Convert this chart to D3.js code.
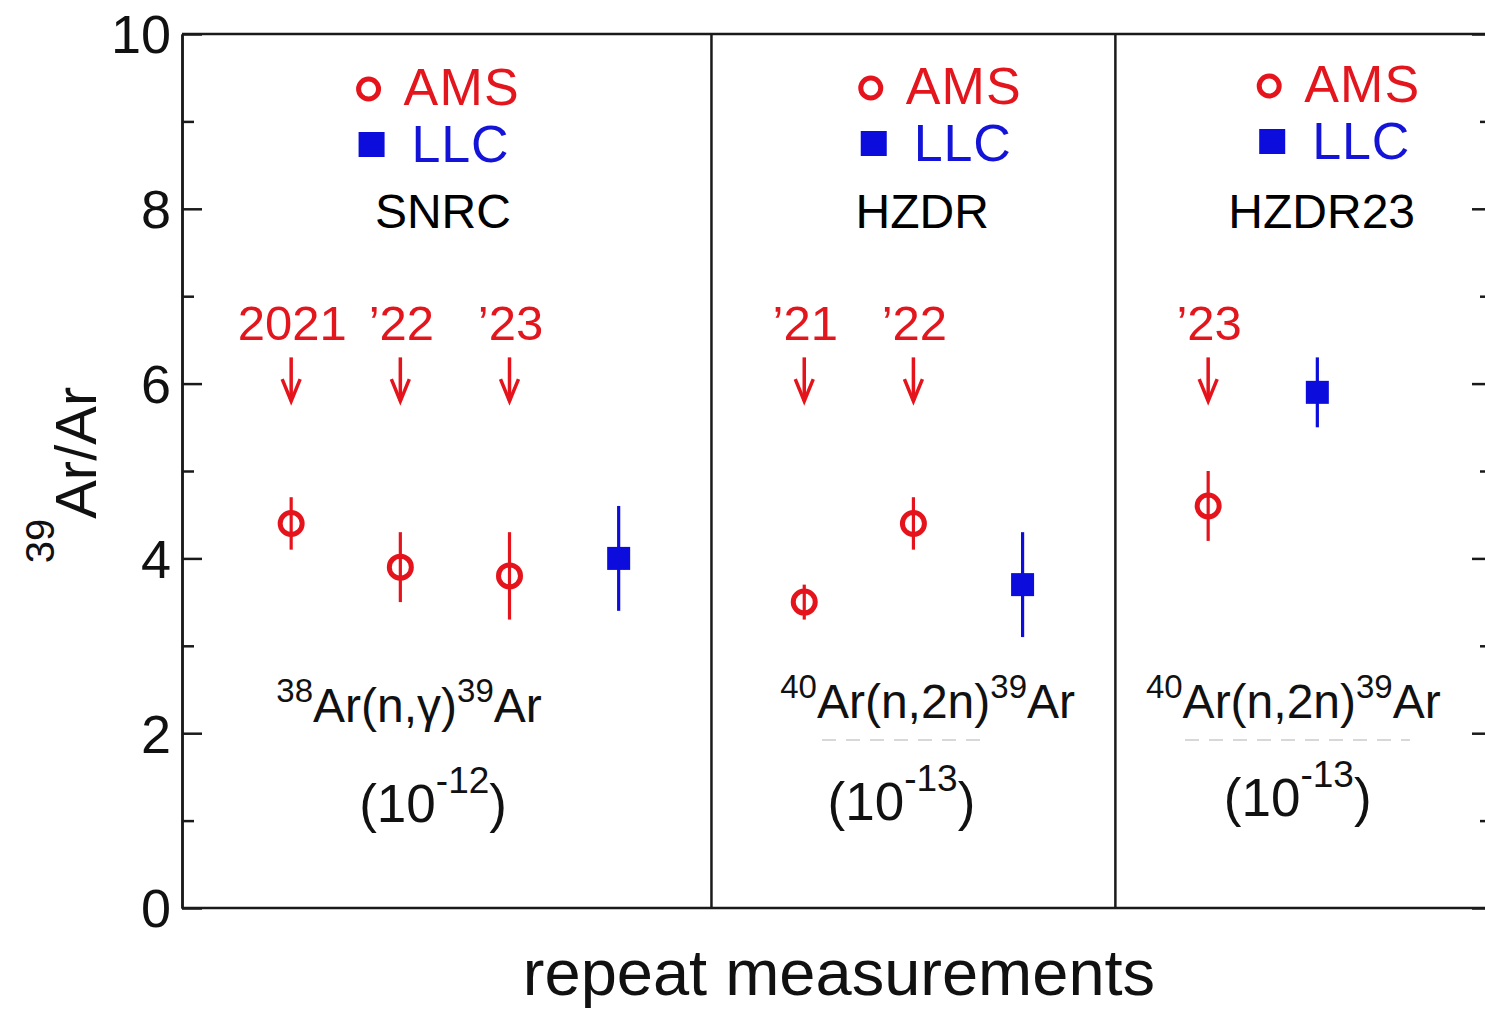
<!DOCTYPE html>
<html>
<head>
<meta charset="utf-8">
<script src="https://cdn.jsdelivr.net/npm/d3@7"></script>
<style>
  html, body { margin: 0; padding: 0; background: #fff; }
  svg { display: block; font-family: "Liberation Sans", Arial, Helvetica, sans-serif; }
</style>
</head>
<body>
<svg id="chart" width="1485" height="1012"></svg>
<script>
// ---- data ----
const panels = ["SNRC", "HZDR", "HZDR23"];
const reactions = [
  { pre: "38", mid: "Ar(n,\u03b3)", post: "39", end: "Ar" },
  { pre: "40", mid: "Ar(n,2n)", post: "39", end: "Ar" },
  { pre: "40", mid: "Ar(n,2n)", post: "39", end: "Ar" }
];
const exponents = ["-12", "-13", "-13"];

// AMS measurements (open circles)
const amsPos   = [1, 2, 3, 5.7, 6.7, 9.4];
const amsVal   = [4.4, 3.9, 3.8, 3.5, 4.4, 4.6];
const amsErr   = [0.3, 0.4, 0.5, 0.2, 0.3, 0.4];
const amsYear  = ["2021", "\u201922", "\u201923", "\u201921", "\u201922", "\u201923"];

// LLC measurements (filled squares)
const llcPos   = [4, 7.7, 10.4];
const llcVal   = [4.0, 3.7, 5.9];
const llcErr   = [0.6, 0.6, 0.4];

const dividers = [4.85, 8.55];
const yTicks   = [0, 2, 4, 6, 8, 10];
const yMinor   = [1, 3, 5, 7, 9];

// ---- layout ----
const RED = "#e5141c", BLUE = "#0c0cdc", TEXT_RED = "#e3161e", TEXT_BLUE = "#1414d8";
const plotL = 182, plotR = 1492, plotT = 34, plotB = 908;

const svg = d3.select("#chart");
const x = d3.scaleLinear().domain([0, 12]).range([plotL, plotR]);
const y = d3.scaleLinear().domain([0, 10]).range([plotB, plotT]);

// frame
const frame = svg.append("g").attr("stroke", "#1a1a1a").attr("stroke-width", 2.5).attr("fill", "none");
frame.append("line").attr("x1", plotL).attr("x2", plotR).attr("y1", plotT).attr("y2", plotT);
frame.append("line").attr("x1", plotL).attr("x2", plotR).attr("y1", plotB).attr("y2", plotB);

// left axis, ticks pointing inward
const gL = svg.append("g").attr("transform", `translate(${plotL},0)`)
  .call(d3.axisRight(y).tickValues(yTicks).tickSize(20).tickSizeOuter(0).tickFormat(""));
gL.append("g").call(d3.axisRight(y).tickValues(yMinor).tickSize(12).tickSizeOuter(0).tickFormat(""));
// right axis, ticks pointing inward
const gR = svg.append("g").attr("transform", `translate(${plotR},0)`)
  .call(d3.axisLeft(y).tickValues(yTicks).tickSize(20).tickSizeOuter(0).tickFormat(""));
gR.append("g").call(d3.axisLeft(y).tickValues(yMinor).tickSize(12).tickSizeOuter(0).tickFormat(""));
svg.selectAll(".domain, .tick line").attr("stroke", "#1a1a1a").attr("stroke-width", 2.5);

// tick labels
svg.append("g").selectAll("text").data(yTicks).join("text")
  .attr("x", plotL - 11).attr("y", d => y(d)).attr("dy", "0.36em")
  .attr("text-anchor", "end").attr("font-size", 54).attr("fill", "#111")
  .text(d => d);

// panel dividers
svg.append("g").selectAll("line").data(dividers).join("line")
  .attr("x1", d => x(d)).attr("x2", d => x(d))
  .attr("y1", plotT).attr("y2", plotB)
  .attr("stroke", "#1a1a1a").attr("stroke-width", 2.5);

// ---- panel headers: legend, facility name ----
const legendPos  = [1.70, 6.30, 9.95];
const namePos    = [2.39, 6.78, 10.44];
const legendDy   = [0, -1, -3];
panels.forEach((p, i) => {
  const g = svg.append("g").attr("transform", `translate(0,${legendDy[i]})`);
  const lx = x(legendPos[i]);
  g.append("circle").attr("cx", lx + 1).attr("cy", 89).attr("r", 10)
    .attr("fill", "none").attr("stroke", RED).attr("stroke-width", 5);
  g.append("text").attr("x", lx + 36).attr("y", 105).attr("font-size", 52)
    .attr("fill", TEXT_RED).attr("textLength", 115).text("AMS");
  g.append("rect").attr("x", lx - 9).attr("y", 132).attr("width", 26).attr("height", 25)
    .attr("fill", BLUE);
  g.append("text").attr("x", lx + 44).attr("y", 162).attr("font-size", 52)
    .attr("fill", TEXT_BLUE).attr("textLength", 97).text("LLC");
  g.append("text").attr("x", x(namePos[i])).attr("y", 228 - legendDy[i]).attr("font-size", 48)
    .attr("text-anchor", "middle").attr("fill", "#000").text(p);
});

// ---- reaction labels and scale factors ----
const reactPos = [2.08, 6.83, 10.18];
const expPos   = [2.30, 6.59, 10.22];
const reactY   = [722, 718, 718];
const expY     = [822, 820, 816];
reactions.forEach((r, i) => {
  const t = svg.append("text").attr("x", x(reactPos[i])).attr("y", reactY[i])
    .attr("text-anchor", "middle").attr("fill", "#111");
  t.append("tspan").attr("font-size", 33).attr("dy", -20).text(r.pre);
  t.append("tspan").attr("font-size", 48).attr("dy", 20).text(r.mid);
  t.append("tspan").attr("font-size", 33).attr("dy", -20).text(r.post);
  t.append("tspan").attr("font-size", 48).attr("dy", 20).text(r.end);

  const e = svg.append("text").attr("x", x(expPos[i])).attr("y", expY[i])
    .attr("text-anchor", "middle").attr("fill", "#111");
  e.append("tspan").attr("font-size", 53).text("(10");
  e.append("tspan").attr("font-size", 37).attr("dy", -29).text(exponents[i]);
  e.append("tspan").attr("font-size", 53).attr("dy", 29).text(")");
});
// faint residue strokes under the (n,2n) labels
const residue = [[822, 990], [1185, 1410]];
svg.append("g").selectAll("line").data(residue).join("line")
  .attr("x1", d => d[0]).attr("x2", d => d[1]).attr("y1", 740).attr("y2", 740)
  .attr("stroke", "#d8d8d8").attr("stroke-width", 2).attr("stroke-dasharray", "14 10");

// ---- year annotations with arrows ----
const ann = svg.append("g");
amsPos.forEach((p, i) => {
  const cx = x(p);
  ann.append("text").attr("x", cx + 1).attr("y", 340).attr("text-anchor", "middle")
    .attr("font-size", 49).attr("fill", TEXT_RED).text(amsYear[i]);
  ann.append("line").attr("x1", cx).attr("x2", cx).attr("y1", y(6.3)).attr("y2", y(5.8))
    .attr("stroke", RED).attr("stroke-width", 3.5);
  ann.append("path")
    .attr("d", `M${cx - 9},${y(5.8) - 22}L${cx},${y(5.8)}L${cx + 9},${y(5.8) - 22}`)
    .attr("fill", "none").attr("stroke", RED).attr("stroke-width", 3.5);
});

// ---- AMS points ----
const ams = svg.append("g");
ams.selectAll("line").data(amsVal).join("line")
  .attr("x1", (d, i) => x(amsPos[i])).attr("x2", (d, i) => x(amsPos[i]))
  .attr("y1", (d, i) => y(d + amsErr[i])).attr("y2", (d, i) => y(d - amsErr[i]))
  .attr("stroke", RED).attr("stroke-width", 3.2);
ams.selectAll("circle").data(amsVal).join("circle")
  .attr("cx", (d, i) => x(amsPos[i])).attr("cy", d => y(d)).attr("r", 11)
  .attr("fill", "none").attr("stroke", RED).attr("stroke-width", 5);

// ---- LLC points ----
const llc = svg.append("g");
llc.selectAll("line").data(llcVal).join("line")
  .attr("x1", (d, i) => x(llcPos[i])).attr("x2", (d, i) => x(llcPos[i]))
  .attr("y1", (d, i) => y(d + llcErr[i])).attr("y2", (d, i) => y(d - llcErr[i]))
  .attr("stroke", BLUE).attr("stroke-width", 3.2);
llc.selectAll("rect").data(llcVal).join("rect")
  .attr("x", (d, i) => x(llcPos[i]) - 11.5).attr("y", d => y(d) - 11.5)
  .attr("width", 23).attr("height", 23).attr("fill", BLUE);

// ---- axis titles ----
const yl = svg.append("text").attr("transform", `translate(96,475) rotate(-90)`)
  .attr("text-anchor", "middle").attr("fill", "#111");
yl.append("tspan").attr("font-size", 40).attr("dy", -42).text("39");
yl.append("tspan").attr("font-size", 58).attr("dy", 42).text("Ar/Ar");

svg.append("text").attr("x", 839).attr("y", 995).attr("text-anchor", "middle")
  .attr("font-size", 65).attr("fill", "#111").text("repeat measurements");
</script>
</body>
</html>
